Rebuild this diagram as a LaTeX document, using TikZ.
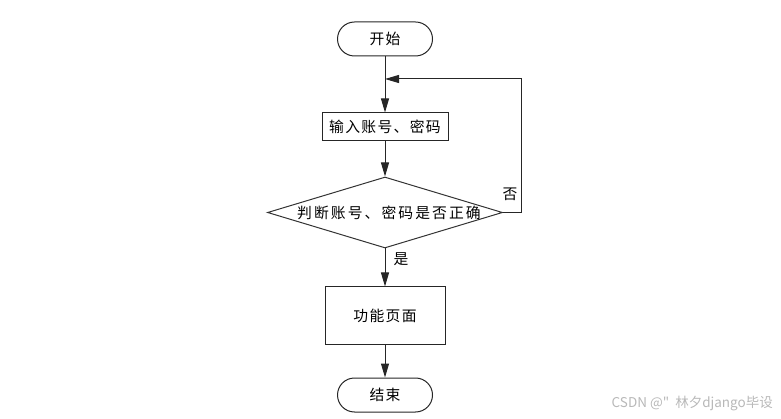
\documentclass[tikz,border=0pt]{standalone}
\usepackage{fontspec}
\newfontfamily\cjk[LetterSpace=9]{Noto Sans CJK SC}
\newfontfamily\cjkwide[LetterSpace=14]{Noto Sans CJK SC}
\newfontfamily\wmfont{Noto Sans CJK SC}
\usetikzlibrary{arrows.meta,shapes.geometric}
\begin{document}
\begin{tikzpicture}[x=1pt,y=-1pt,
  every node/.style={font=\cjk\fontsize{14.8}{16}\selectfont, inner sep=0pt},
  termbox/.style={draw=black!85, line width=1pt, rounded corners=17pt, minimum width=95pt, minimum height=34pt},
  procbox/.style={draw=black!85, line width=1pt, minimum width=126pt, minimum height=28pt},
  decbox/.style={draw=black!80, line width=1pt, diamond, minimum width=235pt, minimum height=71pt, aspect=3.3},
  flow/.style={draw=black!85, line width=1pt, -{Triangle[length=14pt,width=8pt]}},
  lbl/.style={font=\cjk\fontsize{14.8}{16}\selectfont}
]
\useasboundingbox (0,0) rectangle (781,419);
\node[termbox] (start) at (385,39) {开始};
\node[procbox] (input) at (385,127) {输入账号、密码};
\node[decbox] (check) at (385,212.5) {};
\node[font=\cjkwide\fontsize{14.8}{16}\selectfont] (checktxt) at (389,213) {判断账号、密码是否正确};
\node[procbox, minimum width=120pt, minimum height=57pt] (func) at (385,315.5) {功能页面};
\node[termbox] (end) at (385,395) {结束};
\coordinate (loopa) at (521,212.5);
\coordinate (loopb) at (521,79);
\coordinate (loopc) at (385,79);
\draw[flow] (start) -- (input);
\draw[flow] (input) -- (check.north);
\draw[flow] (check.south) -- (func);
\draw[flow] (func) -- (end);
\draw[flow] (check.east) -- (loopa) -- (loopb) -- (loopc);
\node[lbl] (no) at (510,194) {否};
\node[lbl] (yes) at (401,259) {是};
\node[font=\wmfont\fontsize{13.5}{15}\selectfont, text=black!28, anchor=east] (wm) at (773,404) {CSDN @"\ \ 林夕django毕设};
\end{tikzpicture}
\end{document}
